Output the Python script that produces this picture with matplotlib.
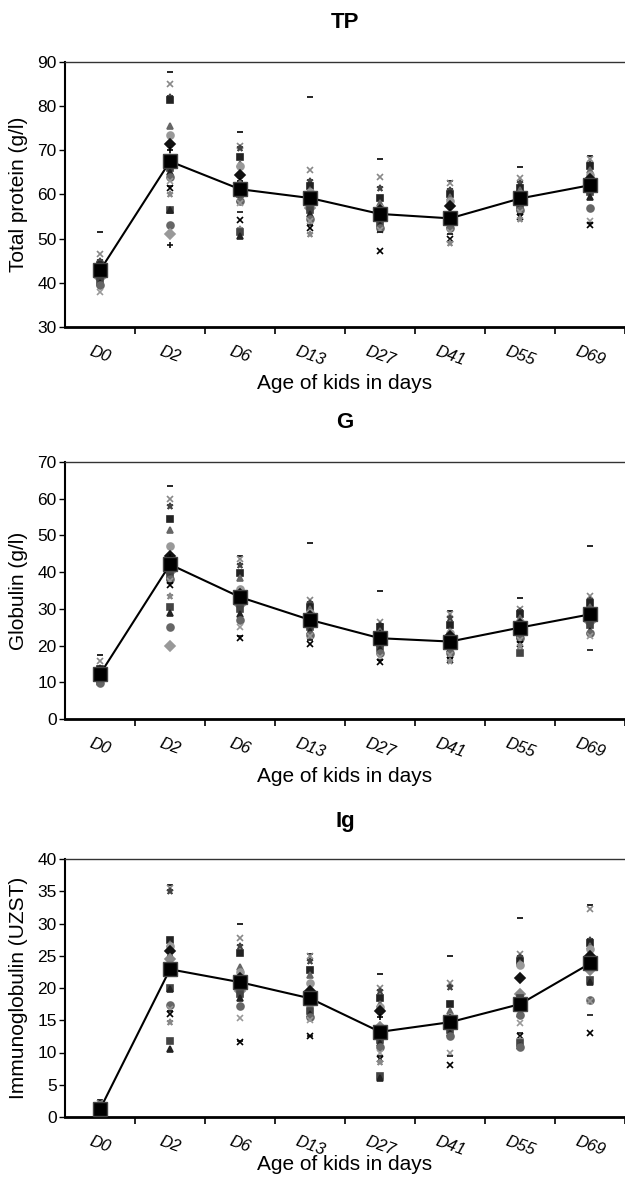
import numpy as np
import matplotlib
matplotlib.use("Agg")
import matplotlib.pyplot as plt

plt.rcParams['font.family'] = ['Liberation Sans', 'DejaVu Sans']

days = ["D0", "D2", "D6", "D13", "D27", "D41", "D55", "D69"]

# mean values (line with big squares)
tp_mean = [42.8, 67.5, 61.2, 59.2, 55.6, 54.6, 59.1, 62.1]
g_mean = [12.2, 42.1, 33.2, 27.0, 22.0, 21.1, 24.9, 28.5]
ig_mean = [1.2, 22.9, 20.9, 18.4, 13.2, 14.7, 17.5, 23.8]

# individual kids, one list per day
tp_kids = [
    [51.5, 46.5, 45, 44, 43.5, 43, 42, 41.5, 41, 40.5, 40, 39.5, 38],
    [87.8, 85, 82, 81.5, 75.5, 73.5, 71.5, 70, 68, 66, 65, 64, 63, 62, 61.5, 60, 56.5, 56.5, 53.2, 51, 48.5],
    [74.2, 71, 70.5, 68.5, 67, 66.5, 64.5, 63, 62, 60, 59, 58.5, 58, 56, 54.2, 52.3, 51.5, 50.5],
    [82, 65.5, 63, 62, 61, 60.5, 59, 58, 57, 56.5, 55.5, 54.5, 54, 53, 52.5, 51],
    [68, 64, 61.5, 59.2, 58, 57, 56.5, 55.5, 54.5, 53.5, 53, 52.5, 52, 51.5, 47.3],
    [63, 62.5, 61, 60, 59.5, 58.5, 57.5, 56, 55, 54, 53, 52.5, 51.5, 51, 50, 49],
    [66.2, 63.8, 62.5, 61.5, 61, 60, 59.5, 58.5, 58, 57.5, 57, 56.5, 56, 55.5, 55, 54.5],
    [68.8, 68, 67, 66.5, 65.5, 64.5, 63.5, 62.5, 61, 60.5, 59.5, 57, 54, 53.5, 53],
]
g_kids = [
    [17.5, 15.8, 14, 13.5, 13, 12.5, 12, 11.5, 11, 10.5, 10, 9.7],
    [63.5, 60, 58, 54.5, 51.5, 47.2, 44.5, 44, 40, 39, 38.5, 38, 37.5, 37, 36.5, 33.5, 30.5, 29, 25, 20],
    [44.5, 43.5, 42, 39.8, 38.5, 35.5, 34, 32.5, 31, 30, 28.5, 27, 25, 22.5, 22],
    [48, 32.5, 31.5, 30.5, 30, 29, 28, 27.5, 26, 25, 24, 23, 22.5, 21.5, 20.5],
    [35, 26.5, 25.5, 25, 24, 23, 22.5, 21.5, 20.5, 19.5, 19, 18, 17, 16, 15.5],
    [29.5, 28.5, 27.5, 25.5, 24, 23.5, 22.5, 21.5, 20.5, 20, 19, 18, 17.5, 16.5, 16, 15.8],
    [33, 30, 29.5, 28.5, 27.5, 26.5, 26, 25, 24, 23, 22.5, 22, 21.5, 21, 20.5, 20, 18],
    [47, 33.5, 32.5, 31.5, 30.5, 29.5, 28, 27, 26.5, 25.5, 24, 23.5, 22.5, 18.8],
]
ig_kids = [
    [2.7, 2.2, 1.8, 1.5, 1.2, 1.0, 0.8, 0.5, 0.3, 0.2],
    [36, 35.5, 35, 27.5, 26.8, 26.5, 25.8, 25, 24.5, 20, 19.8, 17.3, 16.8, 16.5, 16, 14.7, 11.8, 10.5],
    [30, 27.8, 26.5, 25.5, 23.3, 22.5, 21.5, 20.5, 19.5, 19, 18.5, 17.2, 15.3, 11.8, 11.6],
    [25.3, 25, 24.2, 22.8, 22, 20.7, 19.5, 18.5, 17.5, 16.5, 16, 15.5, 15, 12.6, 12.5],
    [22.2, 20, 19.5, 18.5, 17.5, 17, 16.5, 15.5, 14, 12, 11.5, 10.8, 10, 9.5, 9, 8.5, 6.3, 6],
    [25, 20.7, 20.2, 17.5, 16.5, 15.5, 15, 14.5, 14, 13.5, 13, 12.5, 10, 9.5, 8],
    [30.8, 25.3, 24.8, 24.2, 23.8, 23.5, 21.6, 19.3, 19, 18.5, 16, 15.8, 14.5, 13, 12.5, 12, 11.5, 11, 10.8],
    [32.8, 32.2, 27.5, 27, 26.5, 26, 25, 24, 22.8, 21.2, 21, 18.2, 18, 15.8, 13],
]

panels = [
    ("TP", "Total protein (g/l)", tp_mean, tp_kids, (30, 90), 10),
    ("G", "Globulin (g/l)", g_mean, g_kids, (0, 70), 10),
    ("Ig", "Immunoglobulin (UZST)", ig_mean, ig_kids, (0, 40), 5),
]

# axes boxes in pixels: top, bottom
boxes = [(62, 327), (462, 719), (859, 1117)]
title_y = [23, 423, 822]
xlab_y = [384, 776, 1164]

W, H = 625, 1177
fig = plt.figure(figsize=(W / 100, H / 100), dpi=100)

mk_cycle = ['_', 'x', '*', 's', '^', 'o', 'D', '+', 'D', 's', '^', 'o', 'x']
col_cycle = ['black', '#888888', '#444444', '#222222', '#666666', '#999999', '#111111']

x = np.arange(len(days))
for (title, ylab, mean, kids, ylim, step), (top, bot), ty, xy in zip(panels, boxes, title_y, xlab_y):
    ax = fig.add_axes([65 / W, 1 - bot / H, (W - 65) / W, (bot - top) / H])
    for i, vals in enumerate(kids):
        for j, v in enumerate(vals):
            m = mk_cycle[j % len(mk_cycle)]
            c = col_cycle[j % len(col_cycle)]
            ax.plot(x[i], v, marker=m, color=c, ms=5, mew=1.2, ls='none', zorder=2)
    ax.plot(x, mean, color='black', lw=1.5, marker='s', ms=10, mfc='black', mec='#444444', zorder=3)
    ax.set_xlim(-0.5, len(days) - 0.5)
    ax.set_ylim(*ylim)
    ax.set_yticks(np.arange(ylim[0], ylim[1] + 0.1, step))
    ax.set_xticks(x)
    ax.set_xticklabels(days, rotation=-20, style='italic', fontsize=12)
    ax.set_xticks(np.arange(0.5, len(days) - 0.4, 1), minor=True)
    ax.tick_params(axis='x', which='major', length=0, pad=12)
    ax.tick_params(axis='x', which='minor', length=5, width=1.2, direction='out')
    ax.tick_params(axis='y', length=4, width=1, labelsize=12.5, pad=2)
    ax.spines['right'].set_visible(False)
    ax.spines['top'].set_linewidth(1.0)
    ax.spines['top'].set_color('#333333')
    ax.spines['left'].set_linewidth(1.5)
    ax.spines['bottom'].set_linewidth(2.0)
    ax.set_ylabel(ylab, fontsize=15, va='center')
    ax.yaxis.set_label_coords(-(65 - 19) / (W - 65), 0.5)
    ax.set_xlabel("Age of kids in days", fontsize=15, va='center')
    ax.xaxis.set_label_coords(0.5, -(xy - bot) / (bot - top))
    fig.text((65 + W) / 2 / W, 1 - ty / H, title, ha='center', va='center',
             fontsize=16, fontweight='bold')

fig.savefig("out.png", dpi=100)
